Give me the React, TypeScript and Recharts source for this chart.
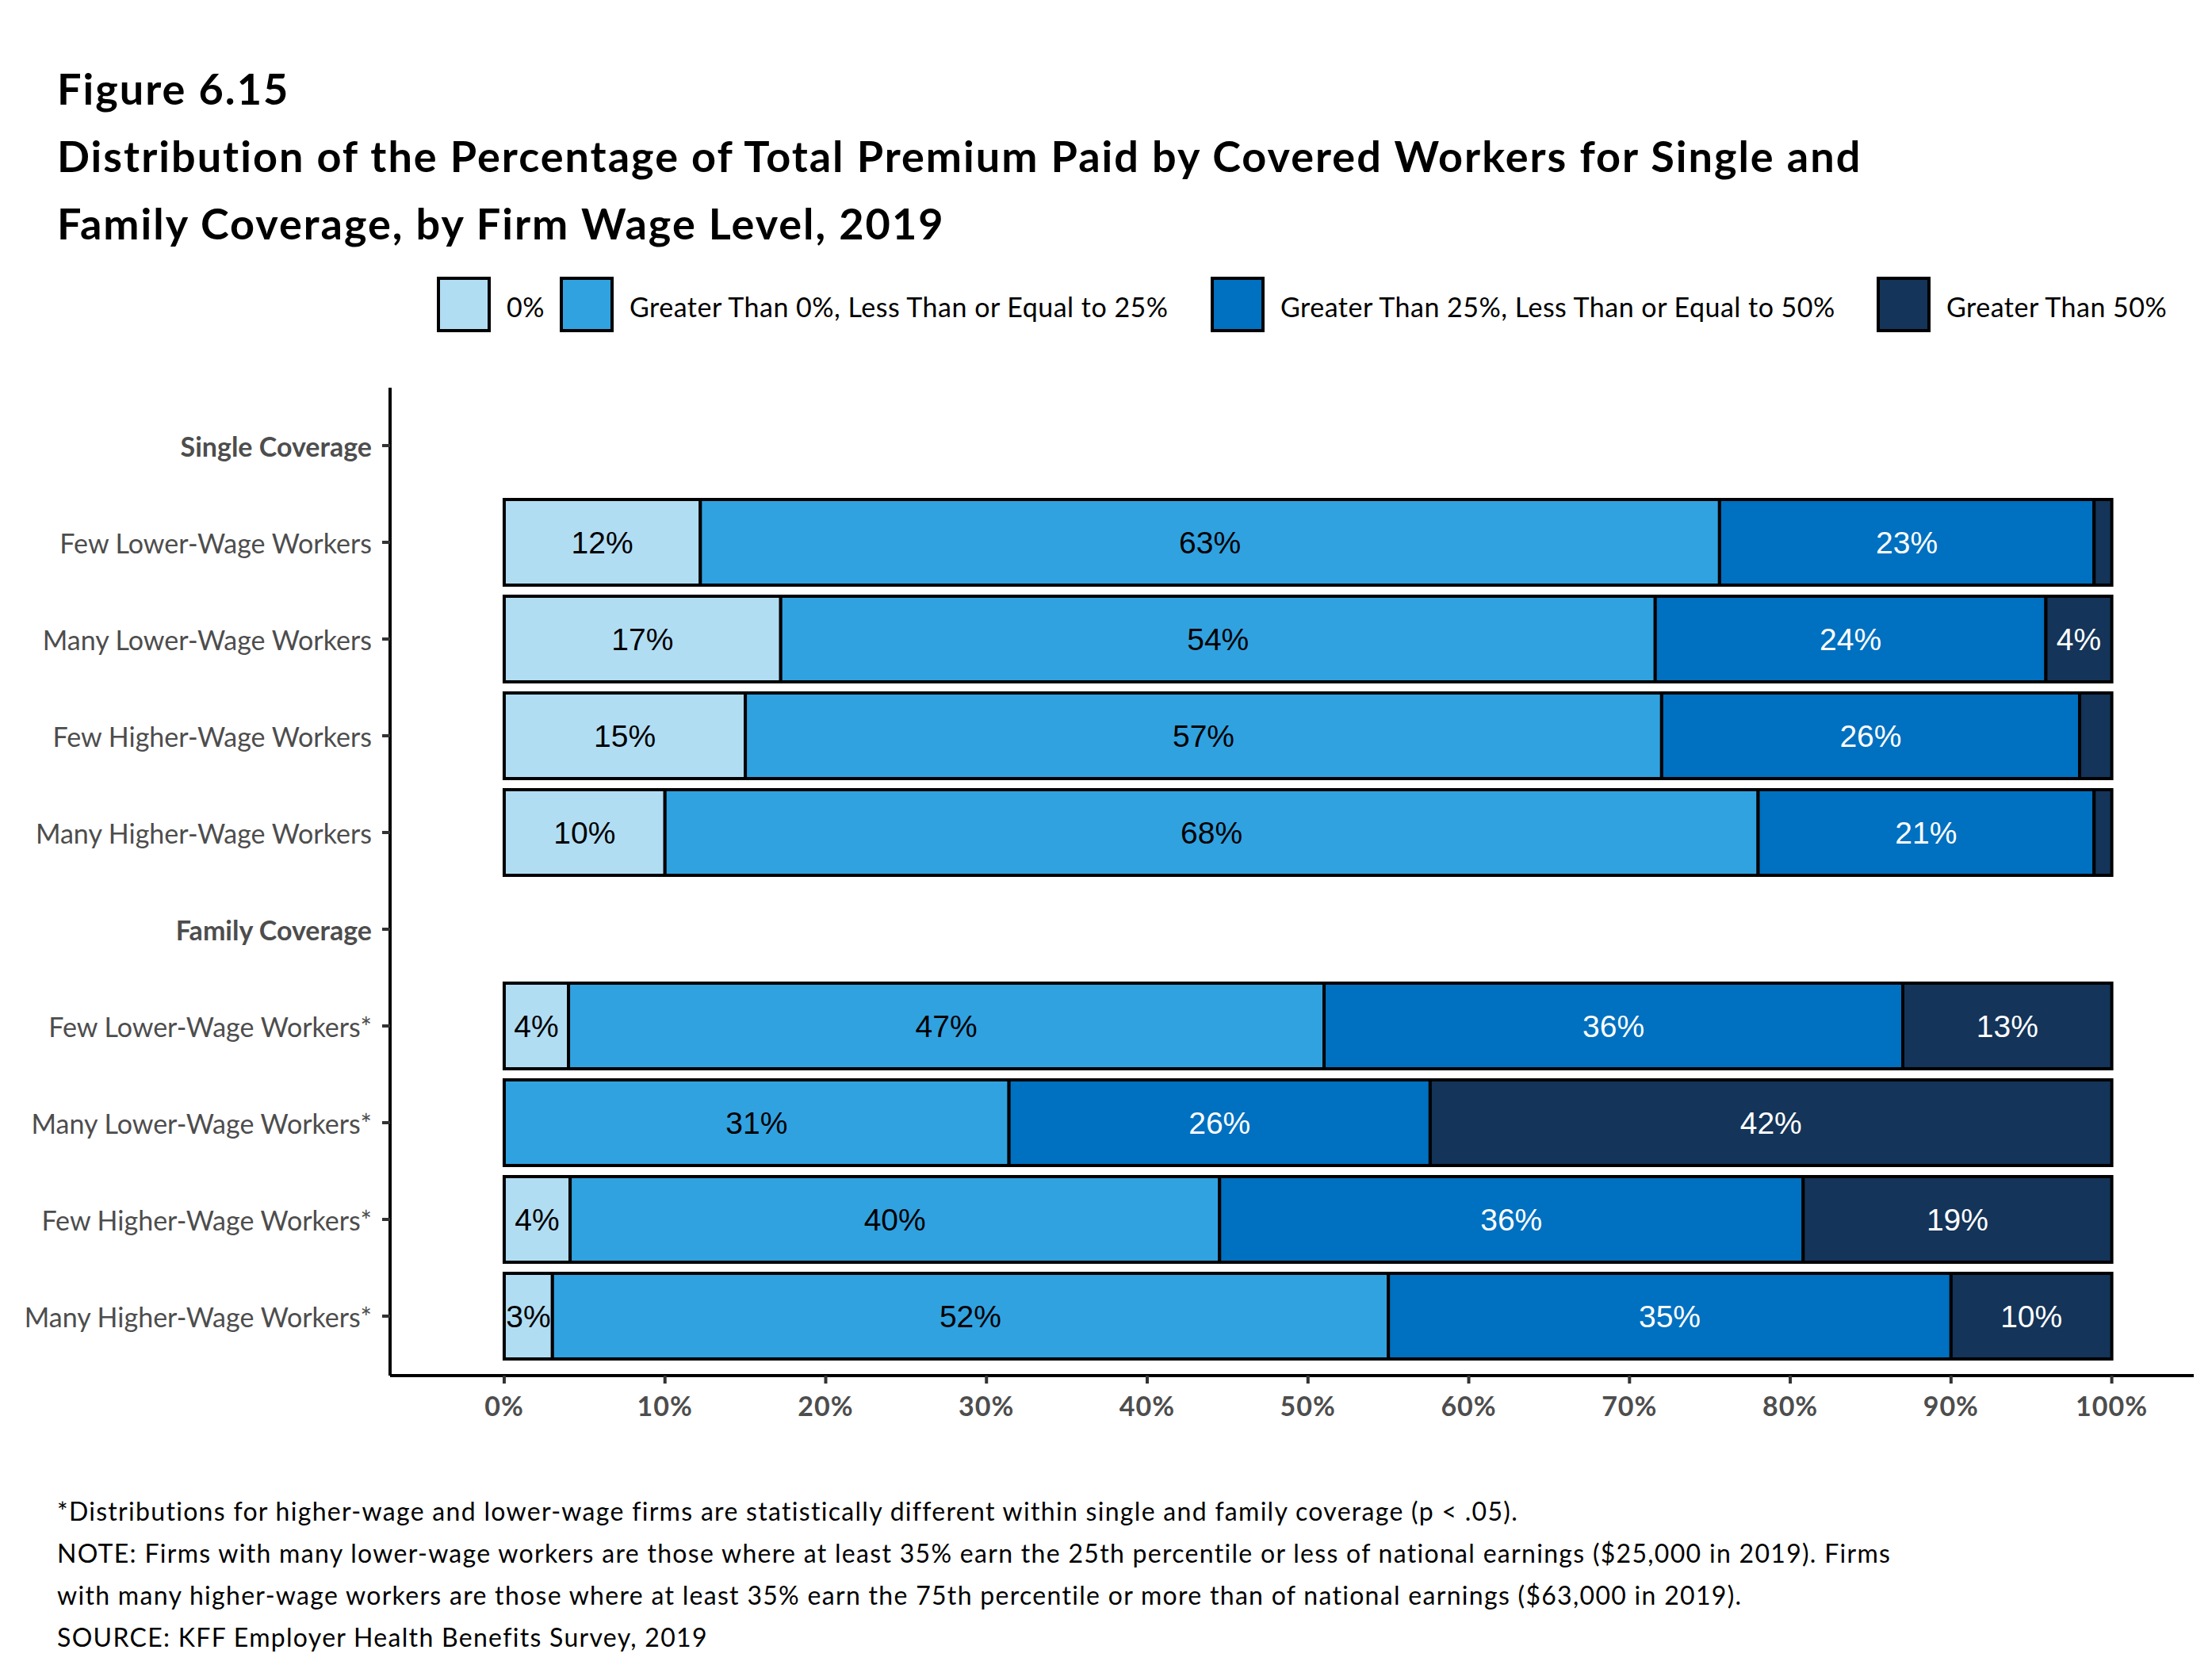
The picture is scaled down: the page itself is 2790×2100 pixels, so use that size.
import React from "react";
import { BarChart, Bar, XAxis, YAxis, LabelList } from "recharts";

const rowLabels = [
  "Single Coverage",
  "Few Lower-Wage Workers",
  "Many Lower-Wage Workers",
  "Few Higher-Wage Workers",
  "Many Higher-Wage Workers",
  "Family Coverage",
  "Few Lower-Wage Workers*",
  "Many Lower-Wage Workers*",
  "Few Higher-Wage Workers*",
  "Many Higher-Wage Workers*",
];
const groupHeaders = ["Single Coverage", "Family Coverage"];

const zeroShare = [null, 12.2, 17.2, 15.0, 10.0, null, 4.0, 0, 4.1, 3.0];
const upTo25Share = [null, 63.4, 54.4, 57.0, 68.0, null, 47.0, 31.4, 40.4, 52.0];
const upTo50Share = [null, 23.3, 24.3, 26.0, 20.9, null, 36.0, 26.2, 36.3, 35.0];
const over50Share = [null, 1.1, 4.1, 2.0, 1.1, null, 13.0, 42.4, 19.2, 10.0];

const seriesNames = [
  "0%",
  "Greater Than 0%, Less Than or Equal to 25%",
  "Greater Than 25%, Less Than or Equal to 50%",
  "Greater Than 50%",
];
const seriesKeys = ["s0", "s1", "s2", "s3"];
const seriesColors = ["#b1ddf3", "#31a2e0", "#0070c0", "#143459"];
const labelColors = ["#000000", "#000000", "#ffffff", "#ffffff"];
const legendLeft = [551, 706, 1527, 2367];

const xTicks = [0, 10, 20, 30, 40, 50, 60, 70, 80, 90, 100];

const footnotes = [
  "*Distributions for higher-wage and lower-wage firms are statistically different within single and family coverage (p < .05).",
  "NOTE: Firms with many lower-wage workers are those where at least 35% earn the 25th percentile or less of national earnings ($25,000 in 2019). Firms",
  "with many higher-wage workers are those where at least 35% earn the 75th percentile or more than of national earnings ($63,000 in 2019).",
  "SOURCE: KFF Employer Health Benefits Survey, 2019",
];

const data = rowLabels.map((name, i) => ({
  name,
  s0: zeroShare[i],
  s1: upTo25Share[i],
  s2: upTo50Share[i],
  s3: over50Share[i],
}));

const myriad = "Lato, 'Open Sans', sans-serif";

const YTick = (props: any) => {
  const { x, y, payload } = props;
  const bold = groupHeaders.includes(payload.value);
  return (
    <text
      x={x}
      y={y}
      textAnchor="end"
      dominantBaseline="central"
      fontFamily={myriad}
      fontSize={34}
      fontWeight={bold ? 700 : 400}
      fill="#4d4d4d"
    >
      {payload.value}
    </text>
  );
};

const makeLabel = (color: string) => (props: any) => {
  const { x, y, width, height, value } = props;
  if (value == null || value < 3) return null;
  return (
    <text
      x={x + width / 2}
      y={y + height / 2}
      textAnchor="middle"
      dominantBaseline="central"
      fontFamily="'Liberation Sans', Arial, sans-serif"
      fontSize={39}
      fill={color}
    >
      {Math.round(value)}%
    </text>
  );
};

export default function App() {
  return (
    <div
      style={{
        position: "absolute",
        left: 0,
        top: 0,
        width: 2790,
        height: 2100,
        background: "#fff",
        fontFamily: myriad,
        color: "#000",
      }}
    >
      <div
        style={{
          position: "absolute",
          left: 72,
          top: 69,
          fontSize: 54,
          fontWeight: 700,
          letterSpacing: 2,
          lineHeight: "85px",
          whiteSpace: "nowrap",
        }}
      >
        <div>Figure 6.15</div>
        <div>
          Distribution of the Percentage of Total Premium Paid by Covered Workers for Single and
        </div>
        <div>Family Coverage, by Firm Wage Level, 2019</div>
      </div>

      {seriesNames.map((s, i) => (
        <React.Fragment key={s}>
          <div
            style={{
              position: "absolute",
              left: legendLeft[i],
              top: 349,
              width: 68,
              height: 70,
              boxSizing: "border-box",
              border: "4px solid #000",
              background: seriesColors[i],
            }}
          />
          <div
            style={{
              position: "absolute",
              left: legendLeft[i] + 88,
              top: 352,
              fontSize: 34,
              letterSpacing: 0.5,
              lineHeight: "70px",
              whiteSpace: "nowrap",
            }}
          >
            {s}
          </div>
        </React.Fragment>
      ))}

      <div style={{ position: "absolute", left: 0, top: 0 }}>
        <BarChart
          width={2790}
          height={1850}
          data={data}
          layout="vertical"
          margin={{ top: 489, right: 23, bottom: 35, left: 0 }}
        >
          <XAxis
            type="number"
            domain={[-7.1, 105.1]}
            ticks={xTicks}
            allowDataOverflow
            tickFormatter={(v) => `${v}%`}
            height={80}
            axisLine={{ stroke: "#000", strokeWidth: 4 }}
            tickLine={{ stroke: "#333", strokeWidth: 4 }}
            tickSize={10}
            tickMargin={17}
            tick={{
              fontFamily: myriad,
              fontSize: 34,
              fontWeight: 700,
              fill: "#4d4d4d",
              letterSpacing: 1,
            }}
          />
          <YAxis
            type="category"
            dataKey="name"
            width={492}
            padding={{ top: 12, bottom: 14 }}
            axisLine={{ stroke: "#000", strokeWidth: 4 }}
            tickLine={{ stroke: "#333", strokeWidth: 4 }}
            tickSize={10}
            tickMargin={13}
            interval={0}
            tick={<YTick />}
          />
          {seriesKeys.map((k, i) => (
            <Bar
              key={k}
              dataKey={k}
              name={seriesNames[i]}
              stackId="a"
              fill={seriesColors[i]}
              stroke="#000"
              strokeWidth={4}
              barSize={108}
              isAnimationActive={false}
            >
              <LabelList dataKey={k} content={makeLabel(labelColors[i])} />
            </Bar>
          ))}
        </BarChart>
      </div>

      <div
        style={{
          position: "absolute",
          left: 72,
          top: 1879,
          fontSize: 32,
          letterSpacing: 1.3,
          lineHeight: "53px",
          whiteSpace: "nowrap",
        }}
      >
        {footnotes.map((f) => (
          <div key={f}>{f}</div>
        ))}
      </div>
    </div>
  );
}
